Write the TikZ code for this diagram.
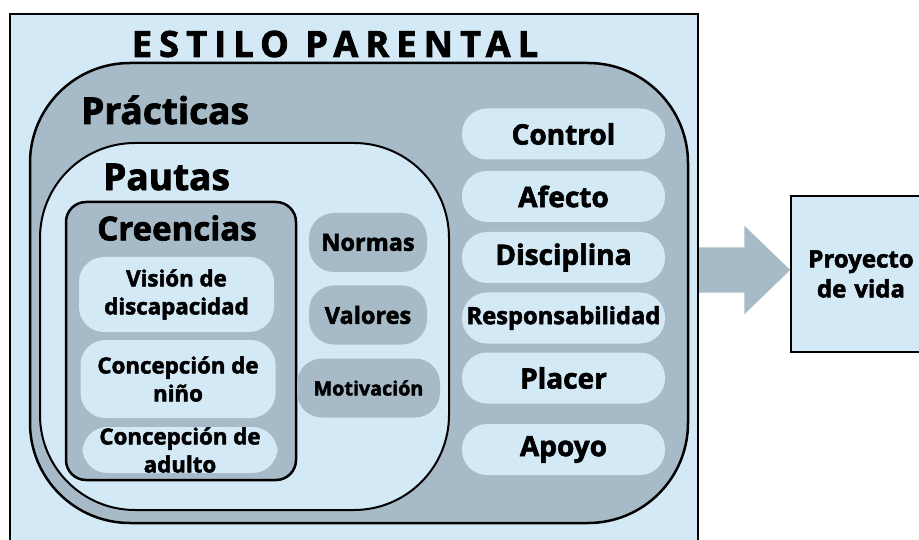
\documentclass[tikz,border=0pt]{standalone}
\usepackage{fontspec}
\setmainfont{Open Sans}[BoldFeatures={FakeBold=2.2}]
\usetikzlibrary{positioning,shapes.arrows}
\definecolor{paleblue}{HTML}{D3E9F5}
\definecolor{slate}{HTML}{A6BBC7}
\newcommand{\fsz}[2]{\fontsize{#1}{#2}\selectfont\bfseries}

\begin{document}
\begin{tikzpicture}[x=1pt,y=-1pt,
  pill/.style={rounded corners=25pt, inner sep=0pt, align=center, text=black},
  rightpill/.style={pill, fill=paleblue, minimum width=203pt, minimum height=51pt, font=\fsz{28}{32}},
  normpill/.style={pill, fill=slate, minimum width=118pt, minimum height=59pt, font=\fsz{23.5}{28}},
  beliefpill/.style={pill, fill=paleblue, minimum width=195pt, font=\fsz{22.3}{28}},
  heading/.style={anchor=west, inner sep=0pt}]
  \useasboundingbox (0,0) rectangle (919,540);
  \clip (0,0) rectangle (919,540);

  % Outer frame
  \node[draw, fill=paleblue, line width=2pt, anchor=north west, minimum width=688pt,
    minimum height=535pt] (estilo) at (9,13) {};
  \node[font=\fsz{36}{40}\addfontfeature{LetterSpace=20}] (titulo) at (335,44) {ESTILO PARENTAL};

  % Nested areas
  \draw[fill=slate, line width=2.5pt, rounded corners=100pt] (30,63) rectangle (688,523);
  \node[heading, font=\fsz{37}{42}] (practicas) at (81,110) {Prácticas};
  \draw[fill=paleblue, line width=2pt, rounded corners=95pt] (40,143) rectangle (449,510);
  \node[heading, font=\fsz{37}{42}] (pautas) at (103,177) {Pautas};
  \draw[fill=slate, line width=2.5pt, rounded corners=20pt] (66,202) rectangle (296,480);
  \node[font=\fsz{33}{38}] (creencias) at (177,228) {Creencias};

  % Creencias
  \node[beliefpill, minimum height=75pt] (vision) at (176.5,294.5) {Visión de\\discapacidad};
  \node[beliefpill, minimum height=78pt] (nino) at (178,379) {Concepción de\\niño};
  \node[beliefpill, minimum height=46pt] (adulto) at (180,450) {Concepción de\\adulto};

  % Pautas
  \node[normpill] (normas) at (368,242.5) {Normas};
  \node[normpill] (valores) at (368,315) {Valores};
  \node[normpill, minimum width=143pt, font=\fsz{19.7}{24}] (motivacion) at (368.5,388) {Motivación};

  % Practicas
  \node[rightpill] (control) at (563.5,134) {Control};
  \node[rightpill] (afecto) at (563.5,196.5) {Afecto};
  \node[rightpill] (disciplina) at (563.5,257.5) {Disciplina};
  \node[rightpill, font=\fsz{23.7}{28}] (responsabilidad) at (563.5,318) {Responsabilidad};
  \node[rightpill] (placer) at (563.5,378) {Placer};
  \node[rightpill] (apoyo) at (563.5,449.5) {Apoyo};

  % Result
  \node[draw, fill=paleblue, line width=2pt, anchor=north west, minimum width=150pt,
    minimum height=156pt, align=center, text width=140pt, inner sep=0pt,
    font=\fsz{24}{30}] (proyecto) at (790,195) {\hspace*{-10pt}Proyecto\\\hspace*{-10pt}de vida};
  \node[single arrow, fill=slate, anchor=tail, inner xsep=0pt, inner ysep=22.5pt,
    minimum height=91pt, single arrow head extend=21.5pt, single arrow tip angle=88,
    yshift=4pt] (flecha) at (estilo.east |- proyecto.west) {};
\end{tikzpicture}
\end{document}
